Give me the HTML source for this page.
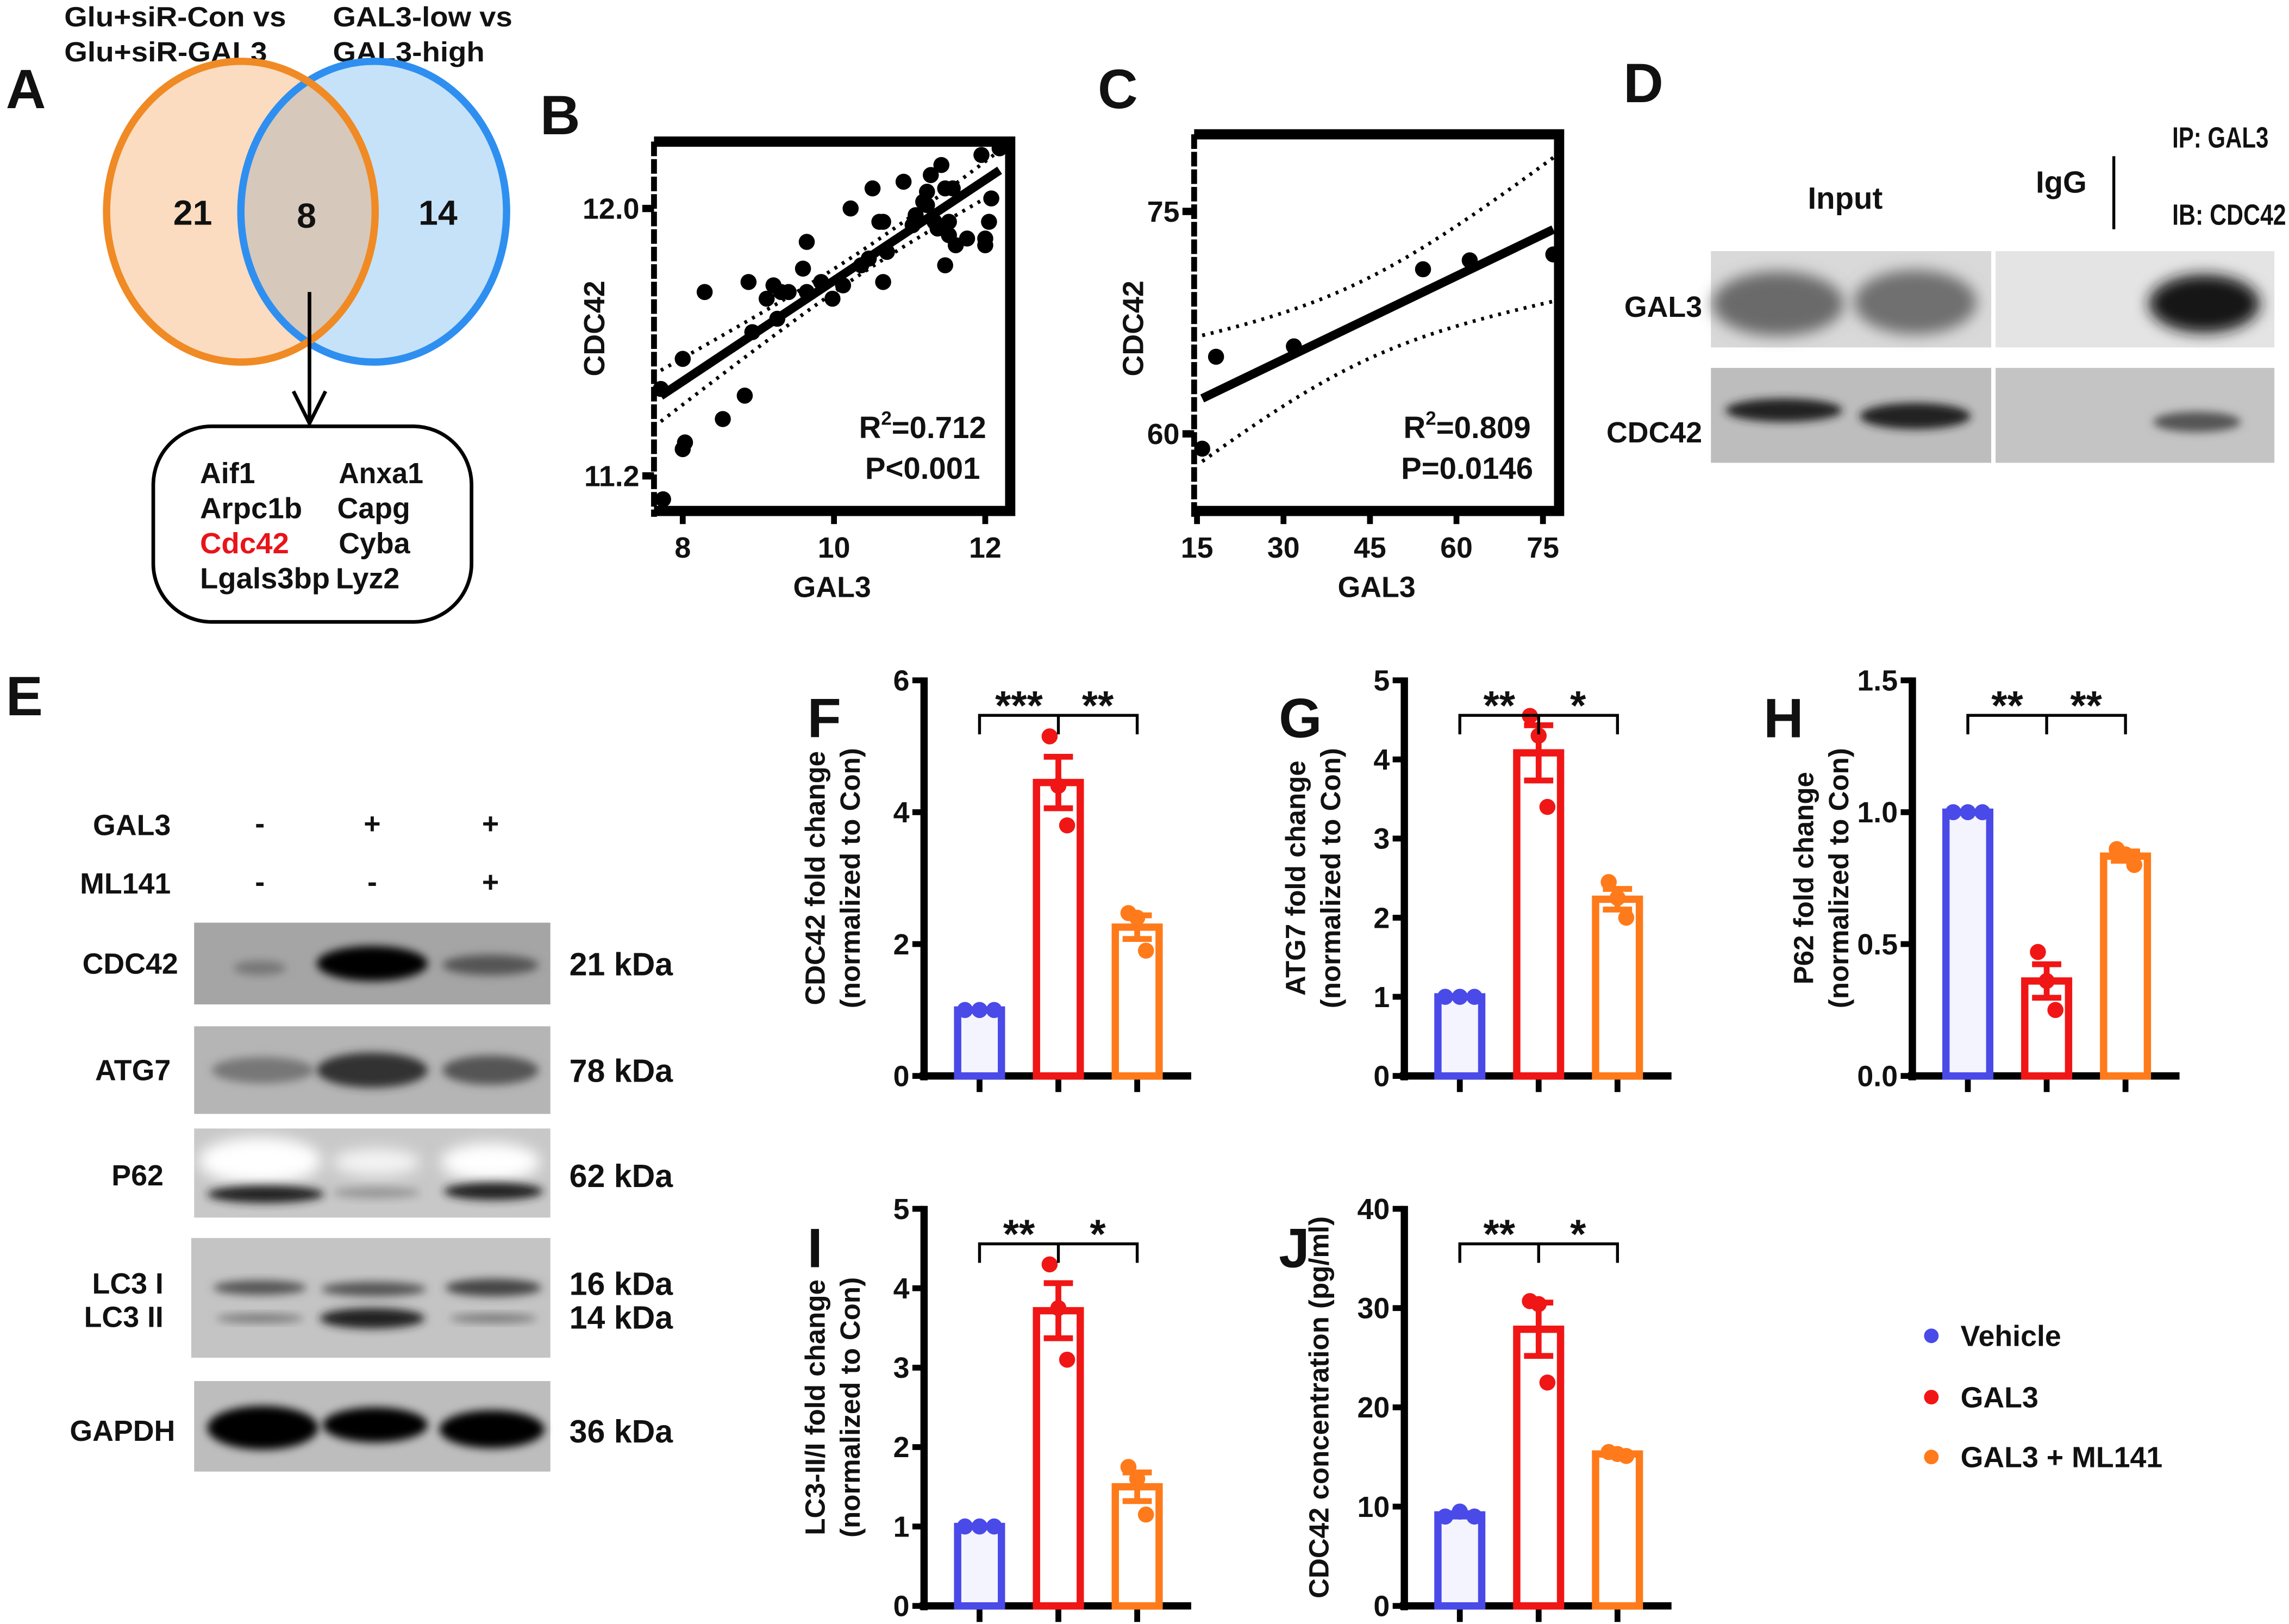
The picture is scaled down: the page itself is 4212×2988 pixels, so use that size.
<!DOCTYPE html>
<html><head><meta charset="utf-8">
<style>
html,body{margin:0;padding:0;background:#fff;}
svg{display:block;}
text{font-family:"Liberation Sans",Arial,sans-serif;font-weight:bold;fill:#111;}
</style></head>
<body>
<svg id="fig" xmlns="http://www.w3.org/2000/svg" width="4212" height="2988" viewBox="0 0 1568 1112.4" preserveAspectRatio="none">
<defs>
<filter id="blur3" x="-50%" y="-50%" width="200%" height="200%"><feGaussianBlur stdDeviation="3"/></filter>
<filter id="blur5" x="-50%" y="-50%" width="200%" height="200%"><feGaussianBlur stdDeviation="5"/></filter>
</defs>

<!-- Panel A -->
<g>
<text x="4" y="74" font-size="38">A</text>
<text x="44" y="18" font-size="19" textLength="152" lengthAdjust="spacingAndGlyphs">Glu+siR-Con vs</text>
<text x="44" y="42" font-size="19" textLength="139" lengthAdjust="spacingAndGlyphs">Glu+siR-GAL3</text>
<text x="228" y="18" font-size="19" textLength="123" lengthAdjust="spacingAndGlyphs">GAL3-low vs</text>
<text x="228" y="42" font-size="19" textLength="104" lengthAdjust="spacingAndGlyphs">GAL3-high</text>
<ellipse cx="165" cy="145" rx="92" ry="103" fill="#fbdcc0"/>
<ellipse cx="256" cy="145" rx="91" ry="103" fill="#c6e2f8"/>
<clipPath id="clipL"><ellipse cx="165" cy="145" rx="92" ry="103"/></clipPath>
<ellipse cx="256" cy="145" rx="91" ry="103" fill="#d6c8bb" clip-path="url(#clipL)"/>
<ellipse cx="256" cy="145" rx="91" ry="103" fill="none" stroke="#2e8ff0" stroke-width="5"/>
<ellipse cx="165" cy="145" rx="92" ry="103" fill="none" stroke="#f08a24" stroke-width="5"/>
<text x="132" y="154" font-size="24" text-anchor="middle">21</text>
<text x="210" y="156" font-size="24" text-anchor="middle">8</text>
<text x="300" y="154" font-size="24" text-anchor="middle">14</text>
<line x1="212" y1="200" x2="212" y2="290" stroke="#000" stroke-width="2.5"/>
<polyline points="201,268 212,290 223,268" fill="none" stroke="#000" stroke-width="2.5"/>
<rect x="105" y="292" width="218" height="134" rx="40" fill="#fff" stroke="#000" stroke-width="2.5"/>
<g font-size="20">
<text x="137" y="331">Aif1</text><text x="232" y="331" textLength="58" lengthAdjust="spacingAndGlyphs">Anxa1</text>
<text x="137" y="355" textLength="70" lengthAdjust="spacingAndGlyphs">Arpc1b</text><text x="231" y="355">Capg</text>
<text x="137" y="379" style="fill:#e8141a" textLength="61" lengthAdjust="spacingAndGlyphs">Cdc42</text><text x="232" y="379">Cyba</text>
<text x="137" y="403" textLength="89" lengthAdjust="spacingAndGlyphs">Lgals3bp</text><text x="230" y="403">Lyz2</text>
</g>
</g>

<text x="370" y="92" font-size="38">B</text>
<g id="chartB"></g>
<text x="752" y="74" font-size="38">C</text>
<g id="chartC"></g>

<!-- Panel D -->
<g>
<text x="1112" y="70" font-size="38">D</text>
<text x="1264" y="143" font-size="21" text-anchor="middle">Input</text>
<text x="1412" y="132" font-size="21" text-anchor="middle">IgG</text>
<line x1="1448" y1="107" x2="1448" y2="157" stroke="#000" stroke-width="2"/>
<text x="1488" y="101" font-size="20" textLength="66" lengthAdjust="spacingAndGlyphs">IP: GAL3</text>
<text x="1488" y="154" font-size="20" textLength="78" lengthAdjust="spacingAndGlyphs">IB: CDC42</text>
<text x="1166" y="217" font-size="20" text-anchor="end">GAL3</text>
<text x="1166" y="303" font-size="20" text-anchor="end">CDC42</text>
<g>
<rect x="1172" y="172" width="192" height="66" fill="#d9d9d9"/>
<rect x="1367" y="172" width="191" height="66" fill="#e4e4e4"/>
<ellipse cx="1218" cy="208" rx="45" ry="22" fill="#6a6a6a" filter="url(#blur5)"/>
<ellipse cx="1312" cy="207" rx="42" ry="22" fill="#6f6f6f" filter="url(#blur5)"/>
<ellipse cx="1510" cy="208" rx="38" ry="20" fill="#181818" filter="url(#blur5)"/>
</g>
<g>
<rect x="1172" y="252" width="192" height="65" fill="#bdbdbd"/>
<rect x="1367" y="252" width="191" height="65" fill="#c4c4c4"/>
<ellipse cx="1222" cy="281" rx="40" ry="8" fill="#222" filter="url(#blur3)"/>
<ellipse cx="1312" cy="285" rx="38" ry="9" fill="#222" filter="url(#blur3)"/>
<ellipse cx="1505" cy="289" rx="30" ry="7" fill="#555" filter="url(#blur3)"/>
</g>
</g>

<!-- Panel E -->
<g>
<text x="4" y="490" font-size="38">E</text>
<g font-size="20">
<text x="117" y="572" text-anchor="end">GAL3</text>
<text x="117" y="612" text-anchor="end">ML141</text>
<text x="178" y="571" text-anchor="middle">-</text><text x="255" y="571" text-anchor="middle">+</text><text x="336" y="571" text-anchor="middle">+</text>
<text x="178" y="611" text-anchor="middle">-</text><text x="255" y="611" text-anchor="middle">-</text><text x="336" y="611" text-anchor="middle">+</text>
<text x="122" y="667" text-anchor="end">CDC42</text>
<text x="117" y="740" text-anchor="end">ATG7</text>
<text x="112" y="812" text-anchor="end">P62</text>
<text x="112" y="886" text-anchor="end">LC3 I</text>
<text x="112" y="909" text-anchor="end">LC3 II</text>
<text x="120" y="987" text-anchor="end">GAPDH</text>
</g>
<g font-size="22">
<text x="390" y="668">21 kDa</text>
<text x="390" y="741">78 kDa</text>
<text x="390" y="813">62 kDa</text>
<text x="390" y="887">16 kDa</text>
<text x="390" y="910">14 kDa</text>
<text x="390" y="988">36 kDa</text>
</g>
<g>
<rect x="133" y="632" width="244" height="56" fill="#a5a5a5"/>
<ellipse cx="178" cy="663" rx="18" ry="5" fill="#777" filter="url(#blur3)"/>
<ellipse cx="255" cy="660" rx="38" ry="12" fill="#050505" filter="url(#blur3)"/>
<ellipse cx="336" cy="661" rx="33" ry="7" fill="#555" filter="url(#blur3)"/>
</g>
<g>
<rect x="133" y="703" width="244" height="60" fill="#b5b5b5"/>
<ellipse cx="180" cy="733" rx="35" ry="9" fill="#777" filter="url(#blur3)"/>
<ellipse cx="255" cy="733" rx="38" ry="12" fill="#333" filter="url(#blur3)"/>
<ellipse cx="336" cy="733" rx="33" ry="10" fill="#555" filter="url(#blur3)"/>
</g>
<g>
<rect x="133" y="773" width="244" height="61" fill="#c8c8c8"/>
<ellipse cx="178" cy="795" rx="42" ry="16" fill="#fff" filter="url(#blur5)"/>
<ellipse cx="258" cy="796" rx="30" ry="9" fill="#f4f4f4" filter="url(#blur5)"/>
<ellipse cx="336" cy="796" rx="34" ry="13" fill="#fff" filter="url(#blur5)"/>
<ellipse cx="182" cy="818" rx="40" ry="6" fill="#222" filter="url(#blur3)"/>
<ellipse cx="258" cy="817" rx="30" ry="4" fill="#999" filter="url(#blur3)"/>
<ellipse cx="338" cy="816" rx="34" ry="6" fill="#222" filter="url(#blur3)"/>
</g>
<g>
<rect x="131" y="848" width="246" height="82" fill="#c4c4c4"/>
<ellipse cx="178" cy="882" rx="32" ry="5" fill="#555" filter="url(#blur3)"/>
<ellipse cx="256" cy="883" rx="36" ry="5" fill="#555" filter="url(#blur3)"/>
<ellipse cx="338" cy="882" rx="33" ry="6" fill="#444" filter="url(#blur3)"/>
<ellipse cx="178" cy="903" rx="30" ry="3" fill="#777" filter="url(#blur3)"/>
<ellipse cx="255" cy="903" rx="36" ry="7" fill="#222" filter="url(#blur3)"/>
<ellipse cx="338" cy="903" rx="30" ry="3" fill="#777" filter="url(#blur3)"/>
</g>
<g>
<rect x="133" y="946" width="244" height="62" fill="#bdbdbd"/>
<ellipse cx="180" cy="978" rx="38" ry="15" fill="#050505" filter="url(#blur3)"/>
<ellipse cx="257" cy="976" rx="36" ry="12" fill="#050505" filter="url(#blur3)"/>
<ellipse cx="337" cy="979" rx="36" ry="13" fill="#050505" filter="url(#blur3)"/>
</g>
</g>

<g id="bars"></g>

<g>
<circle cx="1323" cy="915" r="5" fill="#4a4ae8"/>
<text x="1343" y="922" font-size="20">Vehicle</text>
<circle cx="1323" cy="957" r="5" fill="#f01616"/>
<text x="1343" y="964" font-size="20">GAL3</text>
<circle cx="1323" cy="998" r="5" fill="#ff7a1a"/>
<text x="1343" y="1005" font-size="20">GAL3 + ML141</text>
</g>
</svg>

<script>
// ---- Scatter B data ----
const bGal3 = [7.71,8.0,8.29,8.82,8.53,8.0,8.03,7.74,8.87,9.11,9.20,9.30,9.40,9.59,9.64,9.64,9.83,9.98,10.12,10.22,10.36,10.51,10.60,10.65,10.65,10.70,10.92,11.08,11.18,11.23,11.28,11.37,11.42,11.47,11.52,11.52,11.57,11.61,11.47,11.76,11.95,12.0,12.05,12.08,12.0,12.19,8.92,9.25,11.04,11.23,10.46,11.33];
const bCdc42 = [11.46,11.55,11.75,11.44,11.37,11.28,11.30,11.13,11.78,11.73,11.77,11.75,11.75,11.82,11.90,11.75,11.78,11.73,11.77,12.0,11.83,12.06,11.96,11.96,11.78,11.87,12.08,11.98,12.02,12.05,12.10,11.94,12.13,12.06,11.96,11.92,12.06,11.89,11.83,11.91,12.16,11.91,11.96,12.03,11.89,12.18,11.63,11.67,11.95,12.01,11.85,11.96];
const bXTicks = [8,10,12];
const bYTicks = [11.2,12.0];
// ---- Scatter C data ----
const cGal3 = [15.9,18.3,31.8,54.2,62.3,76.8];
const cCdc42 = [59.0,65.2,65.9,71.1,71.7,72.1];
const cXTicks = [15,30,45,60,75];
const cYTicks = [60,75];
// ---- Bar chart data ----
const groups = ['Vehicle','GAL3','GAL3 + ML141'];
const fPts = [[1,1,1],[5.15,4.4,3.8],[2.47,2.4,1.9]];
const gPts = [[1,1,1],[4.55,4.3,3.4],[2.45,2.25,2.0]];
const hPts = [[1,1,1],[0.47,0.36,0.25],[0.86,0.84,0.8]];
const iPts = [[1,1,1],[4.3,3.75,3.1],[1.75,1.6,1.15]];
const jPts = [[9.0,9.5,9.0],[30.7,30.4,22.5],[15.5,15.3,15.1]];
const fTicks = [0,2,4,6];
const gTicks = [0,1,2,3,4,5];
const hTicks = [0.0,0.5,1.0,1.5];
const iTicks = [0,1,2,3,4,5];
const jTicks = [0,10,20,30,40];
const fStars = ['***','**'];
const gStars = ['**','*'];
const hStars = ['**','**'];
const iStars = ['**','*'];
const jStars = ['**','*'];

const NS='http://www.w3.org/2000/svg';
function mk(tag, attrs, parent){const e=document.createElementNS(NS,tag);for(const k in attrs)e.setAttribute(k,attrs[k]);parent.appendChild(e);return e;}

function scatter(gid, xs, ys, xd, yd, box, xt, yt, xtFmt, ytFmt, stats, ylPos){
  const g=document.getElementById(gid);
  const sx=v=>box.x0+(v-xd[0])/(xd[1]-xd[0])*(box.x1-box.x0);
  const sy=v=>box.y1-(v-yd[0])/(yd[1]-yd[0])*(box.y1-box.y0);
  const fr=mk('path',{d:`M${box.x0},${box.y0} H${box.x1} V${box.y1} H${box.x0}`,fill:'none',stroke:'#000','stroke-width':7},g);
  
  
  const ya=mk('line',{x1:box.x0,y1:box.y0,x2:box.x0,y2:box.y1+4,stroke:'#000','stroke-width':4,'stroke-dasharray':'10 2'},g);
  
  
  xt.forEach(t=>{const x=sx(t);
    const l=mk('line',{x1:x,y1:box.y1,x2:x,y2:box.y1+9,stroke:'#000','stroke-width':4},g);
    
    
    const tx=mk('text',{x:x,y:box.y1+32,'font-size':20,'text-anchor':'middle'},g);tx.textContent=xtFmt(t);
    
    });
  yt.forEach(t=>{const y=sy(t);
    const l=mk('line',{x1:box.x0-8,y1:y,x2:box.x0,y2:y,stroke:'#000','stroke-width':5},g);
    
    
    const tx=mk('text',{x:box.x0-10,y:y+7,'font-size':20,'text-anchor':'end'},g);tx.textContent=ytFmt(t);
    
    });
  const n=xs.length, mx=xs.reduce((a,b)=>a+b)/n, my=ys.reduce((a,b)=>a+b)/n;
  let sxx=0,sxy=0;for(let i=0;i<n;i++){sxx+=(xs[i]-mx)**2;sxy+=(xs[i]-mx)*(ys[i]-my);}
  const b=sxy/sxx,a=my-b*mx;let sse=0;for(let i=0;i<n;i++)sse+=(ys[i]-a-b*xs[i])**2;
  const s=Math.sqrt(sse/(n-2)); const tq = n>20?2.0:2.78;
  const xmin=Math.min(...xs), xmax=Math.max(...xs);
  const cl=(y)=>Math.max(box.y0,Math.min(box.y1,y));
  let up='',lo='';
  for(let k=0;k<=40;k++){const x=xmin+(xmax-xmin)*k/40;const yh=a+b*x;const se=s*Math.sqrt(1/n+(x-mx)**2/sxx);
    up+=(k?'L':'M')+sx(x)+','+cl(sy(yh+tq*se));lo+=(k?'L':'M')+sx(x)+','+cl(sy(yh-tq*se));}
  [up,lo].forEach(d=>{const p=mk('path',{d:d,fill:'none',stroke:'#000','stroke-width':2.5,'stroke-dasharray':'2 4'},g);
    
    });
  const rl=mk('line',{x1:sx(xmin),y1:sy(a+b*xmin),x2:sx(xmax),y2:sy(a+b*xmax),stroke:'#000','stroke-width':6},g);
  
  
  for(let i=0;i<n;i++){const c=mk('circle',{cx:sx(xs[i]),cy:sy(ys[i]),r:5.5,fill:'#000'},g);
    
    }
  const r2=mk('text',{x:stats.x,y:stats.y,'font-size':21,'text-anchor':'middle'},g);
  r2.innerHTML='R<tspan dy="-9" font-size="13">2</tspan><tspan dy="9">='+stats.r2+'</tspan>';
  
  
  const pv=mk('text',{x:stats.x,y:stats.y+28,'font-size':21,'text-anchor':'middle'},g);pv.textContent=stats.p;
  
  
  const yl=mk('text',{x:ylPos.x,y:ylPos.y,'font-size':20,'text-anchor':'middle',transform:`rotate(-90 ${ylPos.x} ${ylPos.y})`},g);yl.textContent='CDC42';
  
  
  const xl=mk('text',{x:(box.x0+box.x1)/2,y:box.y1+59,'font-size':20,'text-anchor':'middle'},g);xl.textContent='GAL3';
  
  
}
scatter('chartB',bGal3,bCdc42,[7.62,12.33],[11.095,12.2],{x0:448,x1:692,y0:97,y1:350},bXTicks,bYTicks,v=>v,v=>v.toFixed(1),{x:632,y:300,r2:'0.712',p:'P<0.001'},{x:414,y:225});
scatter('chartC',cGal3,cCdc42,[14.5,77.8],[54.8,80.2],{x0:818,x1:1068,y0:92,y1:350},cXTicks,cYTicks,v=>v,v=>v,{x:1005,y:300,r2:'0.809',p:'P=0.0146'},{x:783,y:225});

const colors=['#4a4ae8','#f01616','#ff7a1a'];
function barChart(name, pts, ticks, ymax, ax, top, bot, stars, lab1, lab2, tickFmt){
  const root=document.getElementById('bars');
  const g=mk('g',{},root);
  
  
  const sy=v=>bot-v/ymax*(bot-top);
  const offs=[38,92,146];
  const al=mk('line',{x1:ax,y1:top-2,x2:ax,y2:bot+3,stroke:'#000','stroke-width':5},g);
  
  
  const xl=mk('line',{x1:ax-3,y1:bot,x2:ax+183,y2:bot,stroke:'#000','stroke-width':5},g);
  
  
  ticks.forEach(t=>{const y=sy(t);
    const l=mk('line',{x1:ax-8,y1:y,x2:ax,y2:y,stroke:'#000','stroke-width':4},g);
    
    
    const tx=mk('text',{x:ax-10,y:y+7,'font-size':20,'text-anchor':'end'},g);tx.textContent=tickFmt(t);
    
    });
  pts.forEach((p,i)=>{const cx=ax+offs[i];const m=p.reduce((a,b)=>a+b)/p.length;
    const sd=Math.sqrt(p.reduce((a,b)=>a+(b-m)**2,0)/(p.length-1));const se=sd/Math.sqrt(p.length);
    const tk=mk('line',{x1:cx,y1:bot,x2:cx,y2:bot+11,stroke:'#000','stroke-width':4},g);
    
    
    const r=mk('rect',{x:cx-15,y:sy(m),width:30,height:bot-sy(m),fill:i==0?'#f4f4ff':'#fff',stroke:colors[i],'stroke-width':5},g);
    
    
    if(se>0){const e=mk('path',{d:`M${cx},${sy(m-se)}V${sy(m+se)}M${cx-10},${sy(m+se)}H${cx+10}M${cx-10},${sy(m-se)}H${cx+10}`,stroke:colors[i],'stroke-width':4,fill:'none'},g);
      
      }
    p.forEach((v,k)=>{const c=mk('circle',{cx:cx+(k-1)*(i==0?10:6),cy:sy(v),r:5.5,fill:colors[i]},g);
      
      });
  });
  const bx0=ax+offs[0],bx1=ax+offs[1],bx2=ax+offs[2],by=top+24;
  const br=mk('path',{d:`M${bx0},${by+13}V${by}H${bx2}V${by+13}M${bx1},${by}V${by+13}`,stroke:'#000','stroke-width':2,fill:'none'},g);
  
  
  stars.forEach((s,k)=>{const t=mk('text',{x:k?(bx1+bx2)/2:(bx0+bx1)/2,y:by+3,'font-size':28,'text-anchor':'middle'},g);t.textContent=s;
    
    });
  const cy=(top+bot)/2;
  const labs = lab2 ? [[lab1,ax-68],[lab2,ax-44]] : [[lab1,ax-52]];
  labs.forEach(([s,x])=>{const t=mk('text',{x:x,y:cy,'font-size':19,'text-anchor':'middle',transform:`rotate(-90 ${x} ${cy})`},g);t.textContent=s;
    
    });
}
const i0=v=>String(v), f1=v=>v.toFixed(1);
barChart('chart-f',fPts,fTicks,6,633,466,737,fStars,'CDC42 fold change','(normalized to Con)',i0);
barChart('chart-g',gPts,gTicks,5,962,466,737,gStars,'ATG7 fold change','(normalized to Con)',i0);
barChart('chart-h',hPts,hTicks,1.5,1310,466,737,hStars,'P62 fold change','(normalized to Con)',f1);
barChart('chart-i',iPts,iTicks,5,633,828,1100,iStars,'LC3-II/I fold change','(normalized to Con)',i0);
barChart('chart-j',jPts,jTicks,40,962,828,1100,jStars,'CDC42 concentration (pg/ml)','',i0);
const L=[['F',553,505],['G',876,505],['H',1208,505],['I',553,868],['J',876,868]];
L.forEach(([s,x,y])=>{const t=mk('text',{x:x,y:y,'font-size':38},document.getElementById('fig'));t.textContent=s;
  
  });
</script>
</body></html>
